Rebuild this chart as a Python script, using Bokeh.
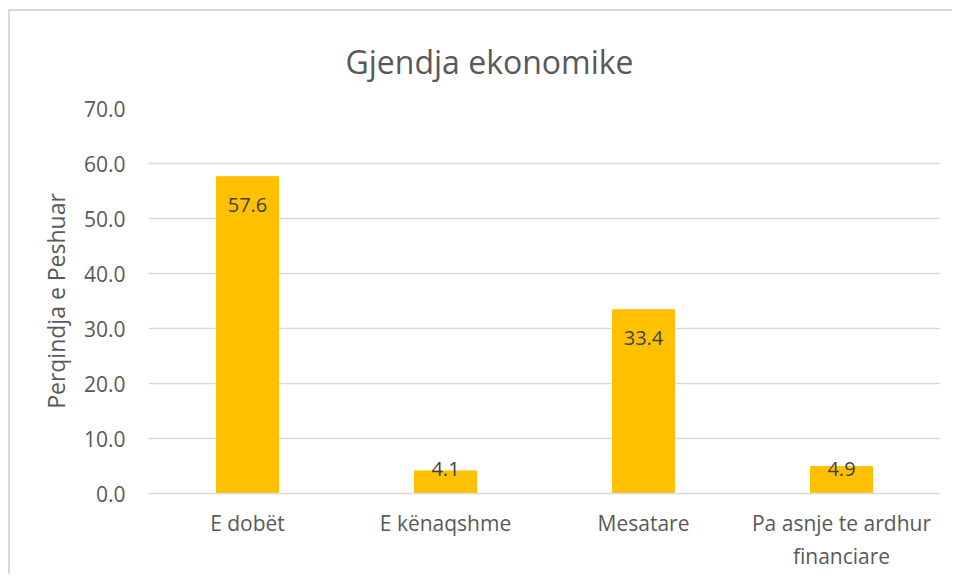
import numpy as np
from bokeh.plotting import figure
from bokeh.models import (ColumnDataSource, FactorRange, Range1d, FixedTicker,
                          NumeralTickFormatter, LabelSet)
from bokeh.core.properties import value
from bokeh.embed import file_html
from bokeh.resources import INLINE

# ---- data ----
categories = ["E dobët", "E kënaqshme", "Mesatare", "Pa asnje te ardhur\nfinanciare"]
values = [57.6, 4.1, 33.4, 4.9]
y_ticks = [0, 10, 20, 30, 40, 50, 60, 70]
title_text = "Gjendja ekonomike"
y_title = "Perqindja e Peshuar"

FONT = "Open Sans"
GRID = "#d9d9d9"
TXT = "#595959"

vals = np.array(values)
label_y = np.maximum(vals - 5.1, 4.4)
src = ColumnDataSource(dict(cat=categories, val=values,
                            lab=[f"{v:.1f}" for v in values],
                            ly=list(label_y)))

p = figure(width=944, height=565, x_range=FactorRange(*categories),
           y_range=Range1d(0, 70), output_backend="svg", toolbar_location=None,
           min_border_left=138, min_border_right=14, min_border_top=97,
           min_border_bottom=83, outline_line_color=None,
           title=title_text,
           styles={"margin-top": "9px", "margin-left": "8px",
                   "border-left": "2px solid #d9d9d9",
                   "border-top": "2px solid #d9d9d9"})

p.vbar(x="cat", top="val", width=0.313, source=src, color="#FFC000")

p.add_layout(LabelSet(x="cat", y="ly", text="lab", source=src,
                      text_align="center", text_baseline="middle",
                      text_font=value(FONT), text_font_size="20px",
                      text_color="#404040"))

p.title.align = "left"
p.title.offset = 197
p.title.standoff = 52
p.title.text_font = FONT
p.title.text_font_size = "32px"
p.title.text_font_style = "normal"
p.title.text_color = TXT

# axes
p.xgrid.grid_line_color = None
p.ygrid.grid_line_color = GRID
p.ygrid.grid_line_width = 1.5
p.yaxis.ticker = FixedTicker(ticks=y_ticks)
p.yaxis.formatter = NumeralTickFormatter(format="0.0")
p.yaxis.axis_line_color = None
p.yaxis.major_tick_line_color = None
p.yaxis.minor_tick_line_color = None
p.yaxis.major_tick_out = 0
p.yaxis.major_label_standoff = 23
p.yaxis.major_label_text_font = FONT
p.yaxis.major_label_text_font_size = "21px"
p.yaxis.major_label_text_color = TXT
p.yaxis.axis_label = y_title
p.yaxis.axis_label_text_font = FONT
p.yaxis.axis_label_text_font_size = "23px"
p.yaxis.axis_label_text_font_style = "normal"
p.yaxis.axis_label_text_color = TXT
p.yaxis.axis_label_standoff = 9

p.xaxis.axis_line_color = GRID
p.xaxis.axis_line_width = 1.5
p.xaxis.major_tick_line_color = None
p.xaxis.minor_tick_line_color = None
p.xaxis.major_tick_out = 0
p.xaxis.major_label_standoff = 15
p.xaxis.major_label_text_font = FONT
p.xaxis.major_label_text_font_size = "21px"
p.xaxis.major_label_text_color = TXT
p.xaxis.major_label_text_align = "center"

open("out.html", "w").write(file_html(p, INLINE))
